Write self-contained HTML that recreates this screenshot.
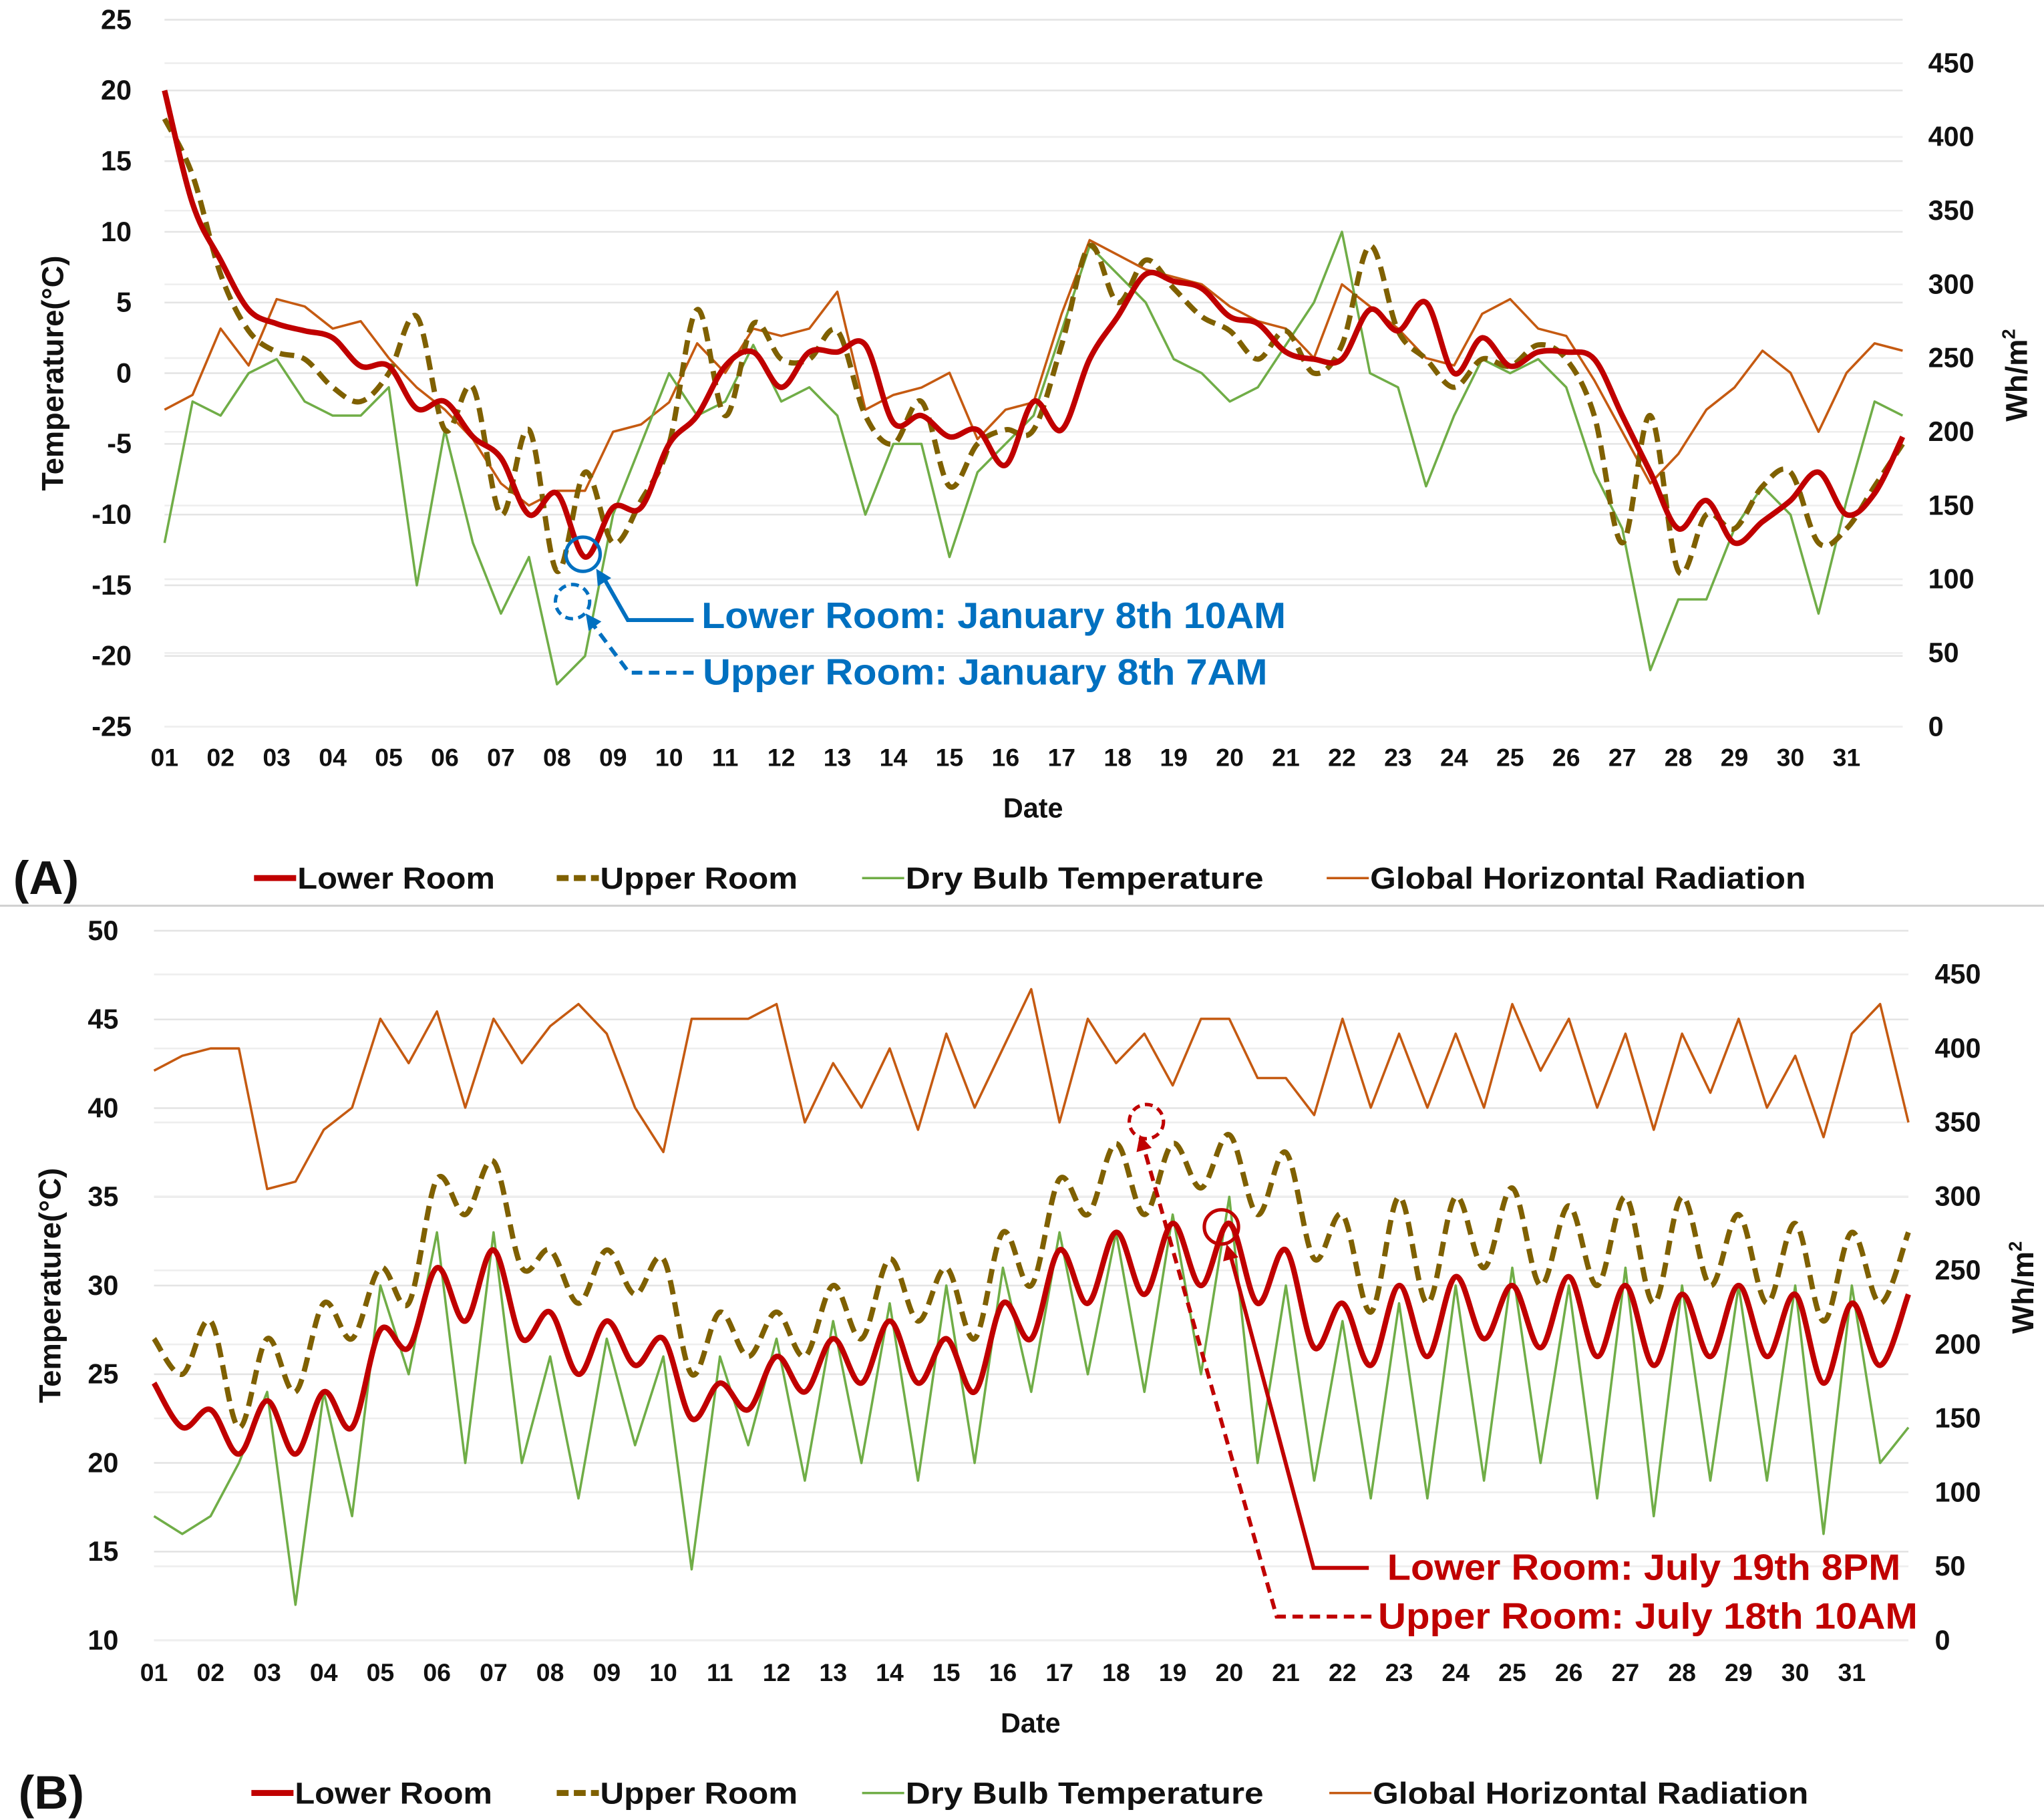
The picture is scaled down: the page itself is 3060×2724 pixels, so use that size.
<!DOCTYPE html>
<html><head><meta charset="utf-8"><style>
html,body{margin:0;padding:0;background:#fff;}
svg{display:block;font-family:"Liberation Sans",sans-serif;}
</style></head><body>
<svg id="chart" width="3060" height="2724" viewBox="0 0 1553 1382.5" preserveAspectRatio="none" xmlns="http://www.w3.org/2000/svg"></svg>
<script>
// ---- data (values sampled every half day, day 1 .. day 32) ----
const dayLabels = ["01","02","03","04","05","06","07","08","09","10","11","12","13","14","15","16","17","18","19","20","21","22","23","24","25","26","27","28","29","30","31"];
const aLeftTicks = [25,20,15,10,5,0,-5,-10,-15,-20,-25];
const aRightTicks = [450,400,350,300,250,200,150,100,50,0];
const bLeftTicks = [50,45,40,35,30,25,20,15,10];
const bRightTicks = [450,400,350,300,250,200,150,100,50,0];

const aLower = [20,12,8,4.5,3.5,3,2.5,0.5,0.5,-2.5,-2,-4.5,-6,-10,-8.5,-13,-9.5,-9.5,-5,-3,0.5,1.5,-1,1.5,1.5,2,-3.5,-3,-4.5,-4,-6.5,-2,-4,1,4,7,6.5,6,4,3.5,1.5,1,1,4.5,3,5,0,2.5,0.5,1.5,1.5,1,-3,-7,-11,-9,-12,-10.5,-9,-7,-10,-8.5,-4.5];
const aUpper = [18,14,7,3,1.5,1,-1,-2,0,4,-4,-1,-10,-4,-14,-7,-12,-9,-5,4.5,-3,3.5,1,1,3,-3,-5,-2,-8,-5,-4,-4,2,9,5,8,6,4,3,1,3,0,2,9,3,1,-1,1,0.5,2,1,-3,-12,-3,-14,-10,-11,-8,-7,-12,-11,-8,-5];
const aDry = [-12,-2,-3,0,1,-2,-3,-3,-1,-15,-4,-12,-17,-13,-22,-20,-10,-5,0,-3,-2,2,-2,-1,-3,-10,-5,-5,-13,-7,-5,-3,3,9,7,5,1,0,-2,-1,2,5,10,0,-1,-8,-3,1,0,1,-1,-7,-11,-21,-16,-16,-11,-8,-10,-17,-9,-2,-3];
const aRad = [215,225,270,245,290,285,270,275,250,230,215,195,165,150,160,160,200,205,220,260,240,270,265,270,295,215,225,230,240,195,215,220,280,330,320,310,305,300,285,275,270,250,300,285,270,250,245,280,290,270,265,235,200,165,185,215,230,255,240,200,240,260,255];

const bLower = [24.5,22,23,20.5,23.5,20.5,24,22,27.5,26.5,31,28,32,27,28.5,25,28,25.5,27,22.5,24.5,23,26,24,27,24.5,28,24.5,27,24,29,27,32,29,33,29.5,33.5,30,33.5,29,32,26.5,29,25.5,30,26,30.5,27,30,26.5,30.5,26,30,25.5,29.5,26,30,26,29.5,24.5,29,25.5,29.5];
const bUpper = [27,25,28,22,27,24,29,27,31,29,36,34,37,31,32,29,32,29.5,31.5,25,28.5,26,28.5,26,30,27,31.5,28,31,27,33,30,36,34,38,34,38,35.5,38.5,34,37.5,31.5,34,28.5,35,29,35,31,35.5,30,34.5,30,35,29,35,30,34,29,33.5,28,33,29,33];
const bDry = [17,16,17,20,24,12,24,17,30,25,33,20,33,20,26,18,27,21,26,14,26,21,27,19,28,20,29,19,30,20,31,24,33,25,33,24,34,25,35,20,30,19,28,18,29,18,30,19,31,20,30,18,31,17,30,19,30,19,30,16,30,20,22];
const bRad = [385,395,400,400,305,310,345,360,420,390,425,360,420,390,415,430,410,360,330,420,420,420,430,350,390,360,400,345,410,360,400,440,350,420,390,410,375,420,420,380,380,355,420,360,410,360,410,360,430,385,420,360,410,345,410,370,420,360,395,340,410,430,350];

const NS="http://www.w3.org/2000/svg";
const svg=document.getElementById('chart');
function el(tag,attrs,parent){const e=document.createElementNS(NS,tag);for(const k in attrs)e.setAttribute(k,attrs[k]);(parent||svg).appendChild(e);return e;}

function smoothPath(pts){
  let d="M"+pts[0][0].toFixed(1)+","+pts[0][1].toFixed(1);
  for(let i=0;i<pts.length-1;i++){
    const p0=pts[i-1]||pts[i],p1=pts[i],p2=pts[i+1],p3=pts[i+2]||p2;
    const c1=[p1[0]+(p2[0]-p0[0])/6,p1[1]+(p2[1]-p0[1])/6];
    const c2=[p2[0]-(p3[0]-p1[0])/6,p2[1]-(p3[1]-p1[1])/6];
    d+="C"+c1[0].toFixed(1)+","+c1[1].toFixed(1)+" "+c2[0].toFixed(1)+","+c2[1].toFixed(1)+" "+p2[0].toFixed(1)+","+p2[1].toFixed(1);
  }
  return d;
}
function linePath(pts){return pts.map((p,i)=>(i?"L":"M")+p[0].toFixed(1)+","+p[1].toFixed(1)).join("");}

function panel(cfg){
  const g=el('g',{});
  
  
  const xOf=d=>cfg.x0+(d-1)*cfg.dx;
  const yL=v=>cfg.yTop+(cfg.lMax-v)*(cfg.yBot-cfg.yTop)/(cfg.lMax-cfg.lMin);
  const yR=v=>cfg.rZeroY-v*cfg.rScale;
  const xEnd=xOf(32);
  cfg.leftTicks.forEach(t=>{const l=el('line',{x1:cfg.x0,x2:xEnd,y1:yL(t),y2:yL(t),stroke:'#e4e4e4','stroke-width':1.3},g);
    
    });
  cfg.rightTicks.forEach(t=>{const l=el('line',{x1:cfg.x0,x2:xEnd,y1:yR(t),y2:yR(t),stroke:'#eeeeee','stroke-width':1.3},g);
    
    });
  cfg.leftTicks.forEach(t=>{const tx=el('text',{x:cfg.lLabX,y:yL(t)+7,'text-anchor':'end','font-size':21,'font-weight':'bold',fill:'#111'},g);tx.textContent=t;
    
    });
  cfg.rightTicks.forEach(t=>{const tx=el('text',{x:cfg.rLabX,y:yR(t)+7,'text-anchor':'start','font-size':21,'font-weight':'bold',fill:'#111'},g);tx.textContent=t;
    
    });
  dayLabels.forEach((lab,i)=>{const tx=el('text',{x:xOf(i+1),y:cfg.xLabY,'text-anchor':'middle','font-size':19,'font-weight':'bold',fill:'#111'},g);tx.textContent=lab;
    
    });
  const pts=(arr,yf)=>arr.map((v,i)=>[xOf(1+i*0.5),yf(v)]);
  const rad=el('path',{d:linePath(pts(cfg.rad,yR)),fill:'none',stroke:'#c55a11','stroke-width':1.8,'stroke-linejoin':'round'},g);
  
  
  const dry=el('path',{d:linePath(pts(cfg.dry,yL)),fill:'none',stroke:'#70ad47','stroke-width':1.8,'stroke-linejoin':'round'},g);
  
  
  const up=el('path',{d:smoothPath(pts(cfg.upper,yL)),fill:'none',stroke:'#7f6000','stroke-width':4,'stroke-dasharray':'11,6'},g);
  
  
  const lo=el('path',{d:smoothPath(pts(cfg.lower,yL)),fill:'none',stroke:'#c00000','stroke-width':4.2},g);
  
  
  const tl=el('text',{x:0,y:0,transform:`translate(${cfg.tlX},${(cfg.yTop+cfg.yBot)/2}) rotate(-90)`,'text-anchor':'middle','font-size':23,'font-weight':'bold',fill:'#111'},g);tl.textContent='Temperature(°C)';
  
  
  const tr=el('text',{x:0,y:0,transform:`translate(${cfg.trX},${cfg.trY}) rotate(-90)`,'text-anchor':'middle','font-size':23,'font-weight':'bold',fill:'#111'},g);tr.innerHTML='Wh/m<tspan font-size="14" dy="-9">2</tspan>';
  
  
  const xt=el('text',{x:cfg.dateX,y:cfg.dateY,'text-anchor':'middle','font-size':21,'font-weight':'bold',fill:'#111'},g);xt.textContent='Date';
  
  
  const pl=el('text',{x:cfg.plX,y:cfg.legY+12,'font-size':36,'font-weight':'bold',fill:'#111'},g);pl.textContent=cfg.letter;
  
  
  const leg=[[cfg.legX[0],'#c00000',null,'Lower Room','legend-lower-room',150],[cfg.legX[1],'#7f6000','9,4','Upper Room','legend-upper-room',150],[cfg.legX[2],'#70ad47',null,'Dry  Bulb Temperature','legend-dry-bulb',272],[cfg.legX[3],'#c55a11',null,'Global Horizontal Radiation','legend-radiation',331]];
  leg.forEach((L,i)=>{const lg=el('g',{},g);
    
    
    const w=i<2?4.5:1.8;
    const a={x1:L[0],x2:L[0]+32,y1:cfg.legY,y2:cfg.legY,stroke:L[1],'stroke-width':w};if(L[2])a['stroke-dasharray']=L[2];
    el('line',a,lg);
    const t=el('text',{x:L[0]+33,y:cfg.legY+8,'font-size':23,'font-weight':'bold',fill:'#111','xml:space':'preserve',textLength:L[5],lengthAdjust:'spacingAndGlyphs'},lg);t.textContent=L[3];});
  return {xOf,yL,yR};
}

const A=panel({name:'panel-a-january',x0:125,dx:42.6,yTop:15,yBot:552,lMax:25,lMin:-25,rZeroY:552,rScale:1.12,leftTicks:aLeftTicks,rightTicks:aRightTicks,lLabX:100,rLabX:1465,xLabY:582,lower:aLower,upper:aUpper,dry:aDry,rad:aRad,tlX:48,trX:1540,trY:285,dateX:785,dateY:621,plX:10,legY:667,letter:'(A)',legX:[193,423,655,1008]});
const B=panel({name:'panel-b-july',x0:117,dx:43,yTop:707,yBot:1246,lMax:50,lMin:10,rZeroY:1246,rScale:1.124,leftTicks:bLeftTicks,rightTicks:bRightTicks,lLabX:90,rLabX:1470,xLabY:1277,lower:bLower,upper:bUpper,dry:bDry,rad:bRad,tlX:46,trX:1545,trY:978,dateX:783,dateY:1316,plX:14,legY:1362,letter:'(B)',legX:[191,423,655,1010]});

const sep=el('line',{x1:0,x2:1553,y1:688,y2:688,stroke:'#d0d0d0','stroke-width':1.5});



function annot(name,color,dashed,cx,cy,pathD,tip,from,label,tx,ty,fs,tl){
  const g=el('g',{});
  
  
  const c={cx:cx,cy:cy,r:13,fill:'none',stroke:color,'stroke-width':2.6};if(dashed)c['stroke-dasharray']='6,4';
  el('circle',c,g);
  const p={d:pathD,fill:'none',stroke:color,'stroke-width':3};if(dashed)p['stroke-dasharray']='8,5';
  el('path',p,g);
  const ang=Math.atan2(tip[1]-from[1],tip[0]-from[0]);
  const L=12,W=6;
  const bx=tip[0]-L*Math.cos(ang),by=tip[1]-L*Math.sin(ang);
  el('polygon',{points:`${tip[0]},${tip[1]} ${bx+W*Math.sin(ang)},${by-W*Math.cos(ang)} ${bx-W*Math.sin(ang)},${by+W*Math.cos(ang)}`,fill:color},g);
  const t=el('text',{x:tx,y:ty,'font-size':fs,'font-weight':'bold',fill:color,textLength:tl,lengthAdjust:'spacingAndGlyphs'},g);t.textContent=label;
}
annot('annotation-lower-january','#0070c0',false,443,421,'M527,471 L477,471 L457,436',[453,432],[477,471],'Lower Room: January 8th 10AM',533,477,28,444);
annot('annotation-upper-january','#0070c0',true,435,457,'M527,511 L478,511 L448,471',[445,466],[478,511],'Upper Room: January 8th 7AM',534,520,28,429);
annot('annotation-lower-july','#c00000',false,928,932,'M1040,1191 L998,1191 L934,950',[932,945],[998,1191],'Lower Room: July 19th 8PM',1054,1200,28,390);
annot('annotation-upper-july','#c00000',true,871,852,'M1042,1228 L970,1228 L868,868',[866,862],[970,1228],'Upper Room: July 18th 10AM',1047,1237,28,410);
</script>
</body></html>
